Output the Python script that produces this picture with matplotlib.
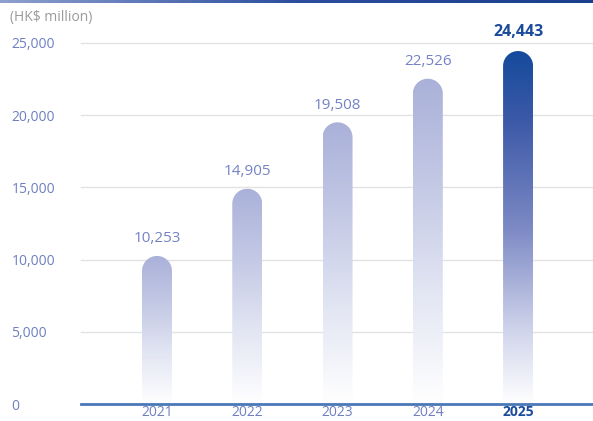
import numpy as np
import matplotlib
matplotlib.use("Agg")
import matplotlib.pyplot as plt
from matplotlib.path import Path
from matplotlib.patches import PathPatch
from matplotlib.colors import LinearSegmentedColormap

plt.rcParams['font.family'] = ['Open Sans', 'DejaVu Sans']

# data
years = ['2021', '2022', '2023', '2024', '2025']
values = [10253, 14905, 19508, 22526, 24443]
value_labels = ['10,253', '14,905', '19,508', '22,526', '24,443']
yticks = [0, 5000, 10000, 15000, 20000, 25000]
ytick_labels = ['0', '5,000', '10,000', '15,000', '20,000', '25,000']

W, H = 593, 421
fig = plt.figure(figsize=(W / 100, H / 100), dpi=100)
ax = fig.add_axes([81 / W, 17 / H, 1 - 81 / W, (404 - 43) / H])

xmin, xmax = -0.842, 4.83
ymin, ymax = 0, 25000
px_x = (W - 81) / (xmax - xmin)
px_y = (404 - 43) / (ymax - ymin)
bar_w = 30 / px_x
rx = bar_w / 2
ry = 15 / px_y

light_cmap = LinearSegmentedColormap.from_list('light', ['#ffffff', '#e3e6f3', '#c4c9e5', '#aab1d9'])
dark_cmap = LinearSegmentedColormap.from_list('dark', [(0, '#ffffff'), (0.2, '#d2d6ec'), (0.5, '#7c89c4'),
                                                       (0.8, '#3d5aa8'), (1, '#154a9c')])

grad = np.linspace(0, 1, 256).reshape(-1, 1)

for i, v in enumerate(values):
    x0, x1 = i - rx, i + rx
    # rounded top: half ellipse in data units = half circle in pixels
    t = np.linspace(np.pi, 0, 40)
    arc_x = i + rx * np.cos(t)
    arc_y = (v - ry) + ry * np.sin(t)
    verts = [(x0, 0)] + list(zip(arc_x, arc_y)) + [(x1, 0), (x0, 0)]
    codes = [Path.MOVETO] + [Path.LINETO] * (len(verts) - 2) + [Path.CLOSEPOLY]
    patch = PathPatch(Path(verts, codes), facecolor='none', edgecolor='none')
    ax.add_patch(patch)
    cmap = dark_cmap if i == len(values) - 1 else light_cmap
    im = ax.imshow(grad, cmap=cmap, origin='lower', extent=[x0, x1, 0, v],
                   aspect='auto', interpolation='bicubic', zorder=2)
    im.set_clip_path(patch)

    if i == len(values) - 1:
        ax.annotate(value_labels[i], (i, v), xytext=(0, 8), textcoords='offset points',
                    ha='center', va='bottom', fontsize=11.5, fontweight='bold', color='#1b4b9b')
    else:
        ax.annotate(value_labels[i], (i, v), xytext=(0, 7), textcoords='offset points',
                    ha='center', va='bottom', fontsize=11, color='#7482c4')

ax.set_xlim(xmin, xmax)
ax.set_ylim(ymin, ymax)

for s in ['top', 'right', 'left', 'bottom']:
    ax.spines[s].set_visible(False)
ax.axhline(0, color='#4a78b8', lw=2, zorder=3, clip_on=False)
for yt in yticks[1:]:
    ax.axhline(yt, color='#e2e2e2', lw=1, zorder=1, clip_on=False)

ax.set_yticks(yticks)
ax.set_yticklabels(ytick_labels, fontsize=10, color='#6f7fc0')
for lab in ax.get_yticklabels():
    lab.set_horizontalalignment('left')
ax.tick_params(axis='y', length=0, pad=50)

ax.set_xticks(range(len(years)))
ax.set_xticklabels(years, fontsize=10, color='#6f7fc0')
ax.get_xticklabels()[-1].set_fontweight('bold')
ax.get_xticklabels()[-1].set_color('#1b4b9b')
ax.tick_params(axis='x', length=0, pad=1)

fig.text(10 / W, 1 - 17 / H, '(HK$ million)', fontsize=10, color='#9a9a9a', va='center', ha='left')

# top gradient band
band = fig.add_axes([0, 1 - 3 / H, 1, 3 / H])
band.imshow(np.linspace(0, 1, 256).reshape(1, -1), aspect='auto',
            cmap=LinearSegmentedColormap.from_list('band', ['#8fa0cf', '#2b4e9e', '#1a3f8c']))
band.axis('off')

fig.savefig('out.png', dpi=100)
